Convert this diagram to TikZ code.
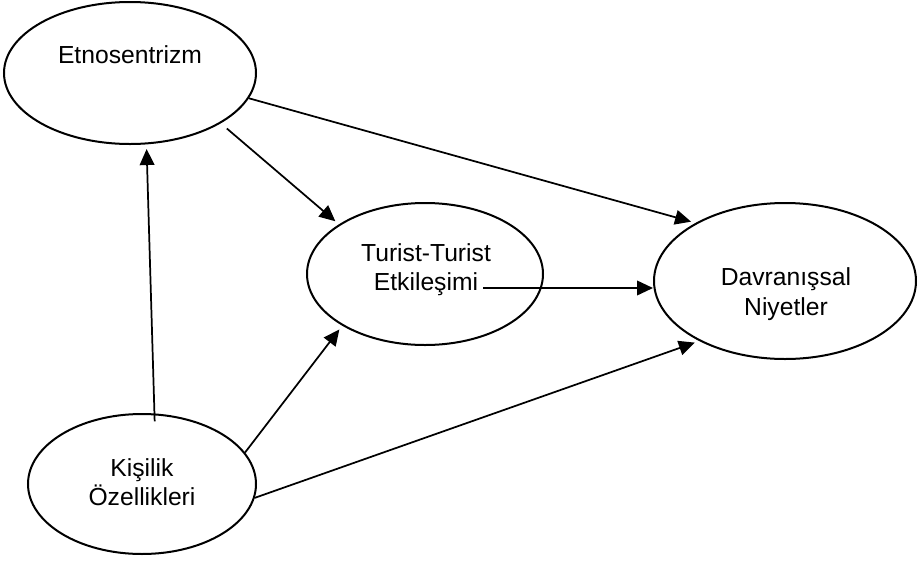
\documentclass[tikz,border=0pt]{standalone}
\usepackage{fontspec}
\setmainfont{Liberation Sans}
\usetikzlibrary{shapes.geometric,arrows.meta}
\tikzset{
  oval/.style={draw,ellipse,line width=1.5pt,inner sep=0pt},
  txt/.style={align=center,font=\fontsize{18.5}{22}\selectfont},
  link/.style={line width=1.3pt,-{Triangle[length=12pt,width=11pt]},shorten >=3.5pt},
}
\begin{document}
\begin{tikzpicture}[x=0.75pt,y=-0.75pt]
  \useasboundingbox (0,0) rectangle (922,561);
  % the four constructs
  \node [oval,minimum width=189pt,minimum height=106.5pt] (etno) at (130,73) {};
  \node [oval,minimum width=177pt,minimum height=106.5pt] (turist) at (425,274) {};
  \node [oval,minimum width=196.5pt,minimum height=117pt] (davr) at (785,281) {};
  \node [oval,minimum width=171pt,minimum height=105pt] (kisilik) at (142,484) {};
  \node [txt] (etno-txt) at (130,55) {Etnosentrizm};
  \node [txt] (turist-txt) at (426,270) {Turist-Turist\\Etkileşimi};
  \node [txt] (davr-txt) at (786,294) {Davranışsal\\Niyetler};
  \node [txt] (kisilik-txt) at (142,482) {Kişilik\\Özellikleri};
  % paths
  \coordinate (turist-out) at (483,288);
  \draw [link,shorten <=-6pt] (kisilik.80) -- (etno.-77);
  \draw [link,shorten <=6pt] (etno.-29) -- (turist.150);
  \draw [link] (etno.-12) -- (davr.147);
  \draw [link,shorten >=0pt] (turist-out) -- (turist-out -| davr.west);
  \draw [link] (kisilik.17) -- (turist.212);
  \draw [link] (kisilik.-7) -- (davr.215);
\end{tikzpicture}
\end{document}
